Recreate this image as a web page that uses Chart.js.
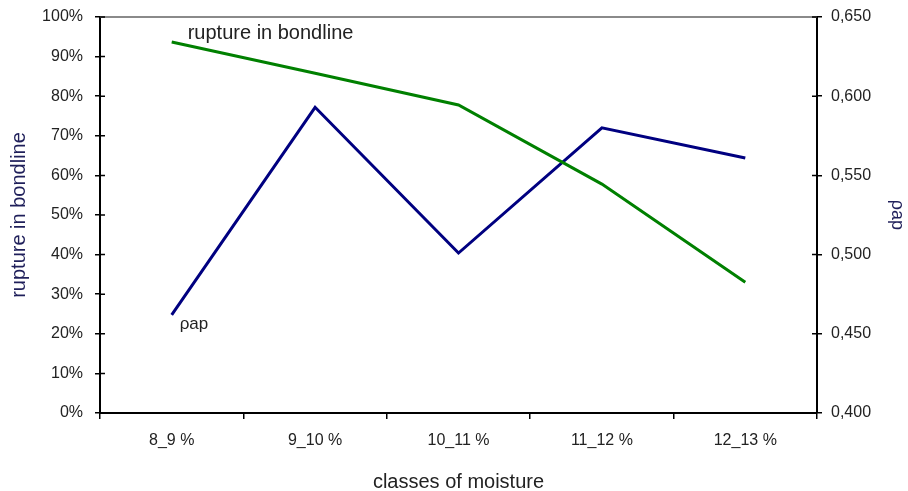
<!DOCTYPE html>
<html>
<head>
<meta charset="utf-8">
<script src="https://cdn.jsdelivr.net/npm/chart.js@4/dist/chart.umd.min.js"></script>
<style>
  html, body { margin: 0; padding: 0; background: #fff; }
  #wrap { width: 908px; height: 491px; }
</style>
</head>
<body>
<div id="wrap"><canvas id="moistureChart"></canvas></div>
<script>
const moistureClasses = ['8_9 %', '9_10 %', '10_11 %', '11_12 %', '12_13 %'];
const ruptureShare = [0.937, 0.858, 0.778, 0.578, 0.330];
const densityAp = [0.462, 0.593, 0.501, 0.580, 0.561];

const FONT = 'Liberation Sans, Arial, sans-serif';

// inner half of the axis ticks, grey top border and the labels written inside the plot
const decorations = {
  id: 'decorations',
  afterDraw(chart) {
    const { ctx, chartArea: a, scales } = chart;
    ctx.save();
    ctx.strokeStyle = '#8a8a8a';
    ctx.lineWidth = 2;
    ctx.beginPath();
    ctx.moveTo(a.left, a.top);
    ctx.lineTo(a.right, a.top);
    ctx.stroke();

    ctx.strokeStyle = '#000';
    ctx.lineWidth = 1.5;
    ctx.beginPath();
    scales.y.ticks.forEach((t, i) => {
      const py = scales.y.getPixelForTick(i);
      ctx.moveTo(a.left, py); ctx.lineTo(a.left + 5, py);
    });
    scales.y1.ticks.forEach((t, i) => {
      const py = scales.y1.getPixelForTick(i);
      ctx.moveTo(a.right - 5, py); ctx.lineTo(a.right, py);
    });
    ctx.stroke();

    ctx.fillStyle = '#222';
    ctx.textBaseline = 'alphabetic';
    const gx = scales.x.getPixelForValue(0);
    const gy = scales.y.getPixelForValue(ruptureShare[0]);
    ctx.font = '20px ' + FONT;
    ctx.fillText('rupture in bondline', gx + 16, gy - 3);
    const by = scales.y1.getPixelForValue(densityAp[0]);
    ctx.font = '17px ' + FONT;
    ctx.fillText('ρap', gx + 8, by + 14);
    ctx.restore();
  }
};

function fixVertical(width) {
  return (scale) => {
    scale.width = width;
    scale.paddingTop = 0;
    scale.paddingBottom = 0;
  };
}

new Chart(document.getElementById('moistureChart'), {
  type: 'line',
  data: {
    labels: moistureClasses,
    datasets: [
      {
        label: 'rupture in bondline',
        data: ruptureShare,
        yAxisID: 'y',
        borderColor: '#008000',
        borderWidth: 3,
        pointRadius: 0,
        tension: 0,
      },
      {
        label: 'ρap',
        data: densityAp,
        yAxisID: 'y1',
        borderColor: '#000080',
        borderWidth: 3,
        pointRadius: 0,
        tension: 0,
      },
    ],
  },
  options: {
    responsive: true,
    maintainAspectRatio: false,
    animation: false,
    layout: { padding: { top: 17, left: 0, right: 0, bottom: 0 } },
    plugins: { legend: { display: false }, tooltip: { enabled: false } },
    scales: {
      x: {
        offset: true,
        grid: { offset: true, drawOnChartArea: false, color: '#000', lineWidth: 1.5, tickLength: 6 },
        border: { color: '#000', width: 2 },
        ticks: { color: '#222', font: { family: FONT, size: 16 }, padding: 12, maxRotation: 0 },
        title: { display: true, text: 'classes of moisture', color: '#222', font: { family: FONT, size: 20 }, padding: { top: 0, bottom: -3 } },
        afterFit(scale) {
          scale.height = 78;
          scale.paddingLeft = 0;
          scale.paddingRight = 0;
        },
      },
      y: {
        position: 'left',
        min: 0,
        max: 1,
        ticks: {
          stepSize: 0.1,
          color: '#222',
          font: { family: FONT, size: 16 },
          padding: 12,
          callback: (v) => Math.round(v * 100) + '%',
        },
        grid: { drawOnChartArea: false, color: '#000', lineWidth: 1.5, tickLength: 5 },
        border: { color: '#000', width: 2 },
        title: { display: true, text: 'rupture in bondline', color: '#1f1f5a', font: { family: FONT, size: 20 }, padding: { top: 7, bottom: 0 } },
        afterFit: fixVertical(100),
      },
      y1: {
        position: 'right',
        min: 0.4,
        max: 0.65,
        ticks: {
          stepSize: 0.05,
          color: '#222',
          font: { family: FONT, size: 16 },
          padding: 9,
          callback: (v) => v.toFixed(3).replace('.', ','),
        },
        grid: { drawOnChartArea: false, color: '#000', lineWidth: 1.5, tickLength: 5 },
        border: { color: '#000', width: 2 },
        title: { display: true, text: 'ρap', color: '#1f1f5a', font: { family: FONT, size: 18 }, padding: { top: 0, bottom: 0 } },
        afterFit: fixVertical(91),
      },
    },
  },
  plugins: [decorations],
});
</script>
</body>
</html>
